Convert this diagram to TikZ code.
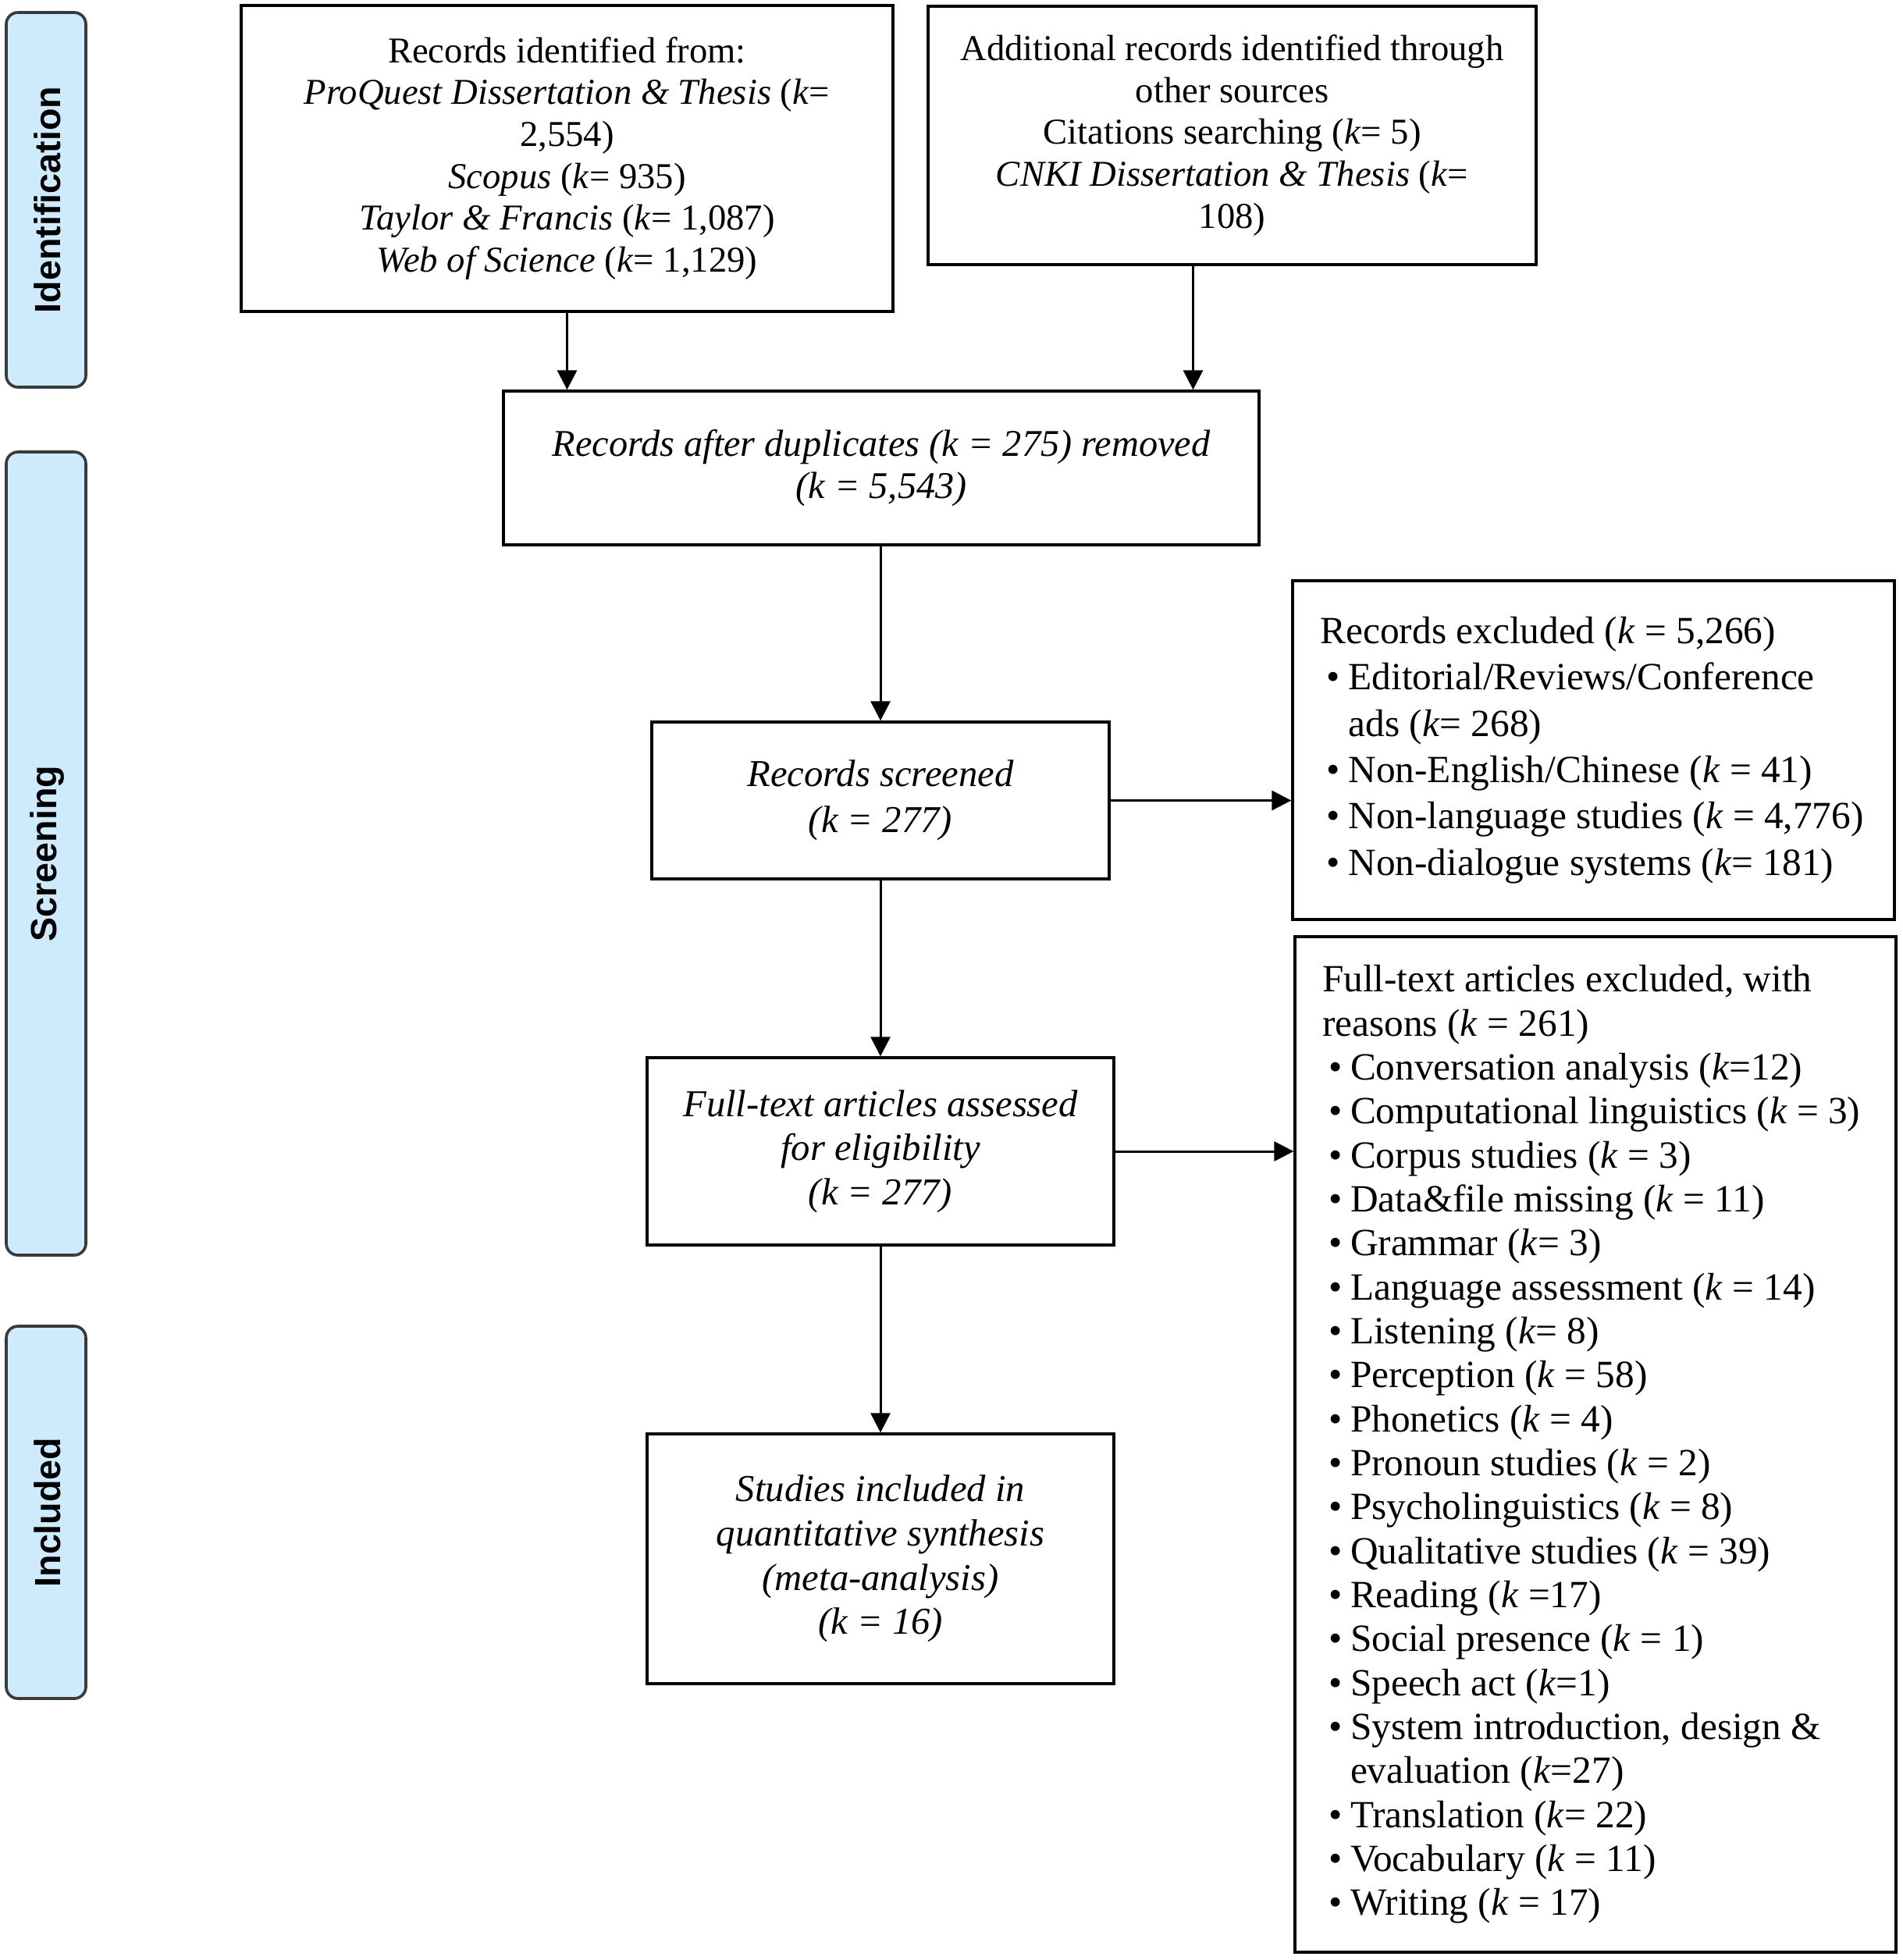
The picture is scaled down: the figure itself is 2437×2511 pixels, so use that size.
\documentclass[tikz,border=0pt]{standalone}
\usepackage{fontspec}
\setmainfont{Liberation Serif}
\newfontfamily\sidefont{Liberation Sans}
\usetikzlibrary{arrows.meta}
\definecolor{sideblue}{HTML}{CDEBFC}
\definecolor{sideedge}{HTML}{3A3A3A}
\newcommand\bitem{\hspace*{2.4pt}\makebox[8.4pt][l]{\textbullet}}
\newcommand\bcont{\hspace*{10.8pt}}
\begin{document}
\begin{tikzpicture}[x=0.3pt,y=-0.3pt,
  box/.style={draw=black,line width=1pt,inner sep=0pt,align=center},
  sidebox/.style={draw=sideedge,fill=sideblue,line width=1.1pt,rounded corners=4.5pt,
     minimum width=30.6pt,inner sep=0pt,
     font=\sidefont\bfseries\fontsize{14}{16}\selectfont},
  sidetext/.style={rotate=90,font=\sidefont\bfseries\fontsize{14}{16}\selectfont},
  flow/.style={line width=0.9pt,-{Triangle[width=7.5pt,length=7.5pt]}}
]
\useasboundingbox (0,0) rectangle (2437,2511);

% side labels
\node[sidebox,minimum height=144pt] (sideid) at (59,256) {};
\node[sidetext] (sideidt) at (61,256) {Identification};
\node[sidebox,minimum height=308.7pt] (sidesc) at (59,1093.5) {};
\node[sidetext] (sidesct) at (61,1093.5) {Screening};
\node[sidebox,minimum height=143.1pt] (sidein) at (59,1937.5) {};
\node[sidetext] (sideint) at (61,1937.5) {Included};

% boxes
\node[box,minimum width=250.5pt,minimum height=117.6pt,font=\fontsize{14}{16.1}\selectfont] (b1) at (726.5,203)
  {Records identified from:\\
   \textit{ProQuest Dissertation \& Thesis} (\textit{k}=\\
   2,554)\\
   \textit{Scopus} (\textit{k}= 935)\\
   \textit{Taylor \& Francis} (\textit{k}= 1,087)\\
   \textit{Web of Science} (\textit{k}= 1,129)};

\node[box,minimum width=233.7pt,minimum height=99.3pt,font=\fontsize{14}{16.1}\selectfont] (b2) at (1578.5,173.5)
  {Additional records identified through\\
   other sources\\
   Citations searching (\textit{k}= 5)\\
   \textit{CNKI Dissertation \& Thesis} (\textit{k}=\\
   108)};

\node[box,minimum width=290.4pt,minimum height=59.1pt,font=\itshape\fontsize{14.5}{16}\selectfont] (b3) at (1129,599.5)
  {Records after duplicates (k = 275) removed\\
   (k = 5,543)};

\node[box,minimum width=175.8pt,minimum height=60.3pt,font=\itshape\fontsize{14.6}{17.7}\selectfont] (b4) at (1128,1025.5)
  {Records screened\\(k = 277)};

\node[box,minimum width=231.3pt,minimum height=130.2pt,align=left,font=\fontsize{14.8}{17.8}\selectfont] (b5) at (2041.5,961)
  {\makebox[210pt][l]{Records excluded (\textit{k} = 5,266)}\\
   \bitem Editorial/Reviews/Conference\\
   \bcont ads (\textit{k}= 268)\\
   \bitem Non-English/Chinese (\textit{k} = 41)\\
   \bitem Non-language studies (\textit{k} = 4,776)\\
   \bitem Non-dialogue systems (\textit{k}= 181)};

\node[box,minimum width=179.4pt,minimum height=72pt,font=\itshape\fontsize{14.6}{17}\selectfont] (b6) at (1128,1475)
  {Full-text articles assessed\\for eligibility\\(k = 277)};

\node[box,minimum width=231pt,minimum height=390.3pt,align=left,font=\fontsize{14.8}{16.9}\selectfont] (b7) at (2044,1850.5)
  {\makebox[210pt][l]{Full-text articles excluded, with}\\
   reasons (\textit{k} = 261)\\
   \bitem Conversation analysis (\textit{k}=12)\\
   \bitem Computational linguistics (\textit{k} = 3)\\
   \bitem Corpus studies (\textit{k} = 3)\\
   \bitem Data\&file missing (\textit{k} = 11)\\
   \bitem Grammar (\textit{k}= 3)\\
   \bitem Language assessment (\textit{k} = 14)\\
   \bitem Listening (\textit{k}= 8)\\
   \bitem Perception (\textit{k} = 58)\\
   \bitem Phonetics (\textit{k} = 4)\\
   \bitem Pronoun studies (\textit{k} = 2)\\
   \bitem Psycholinguistics (\textit{k} = 8)\\
   \bitem Qualitative studies (\textit{k} = 39)\\
   \bitem Reading (\textit{k} =17)\\
   \bitem Social presence (\textit{k} = 1)\\
   \bitem Speech act (\textit{k}=1)\\
   \bitem System introduction, design \&\\
   \bcont evaluation (\textit{k}=27)\\
   \bitem Translation (\textit{k}= 22)\\
   \bitem Vocabulary (\textit{k} = 11)\\
   \bitem Writing (\textit{k} = 17)};

\node[box,minimum width=179.4pt,minimum height=96pt,font=\itshape\fontsize{14.6}{17}\selectfont] (b8) at (1128,1997)
  {Studies included in\\quantitative synthesis\\(meta-analysis)\\(k = 16)};

% connectors
\draw[flow] (b1.south) -- (b1.south |- b3.north);
\draw[flow] ([xshift=-15pt]b2.south) -- ([xshift=-15pt]b2.south |- b3.north);
\draw[flow] (b3.south -| b4.north) -- (b4.north);
\draw[flow] (b4.south) -- (b6.north);
\draw[flow] (b6.south) -- (b8.north);
\draw[flow] (b4.east) -- (b4.east -| b5.west);
\draw[flow] (b6.east) -- (b6.east -| b7.west);
\end{tikzpicture}
\end{document}
